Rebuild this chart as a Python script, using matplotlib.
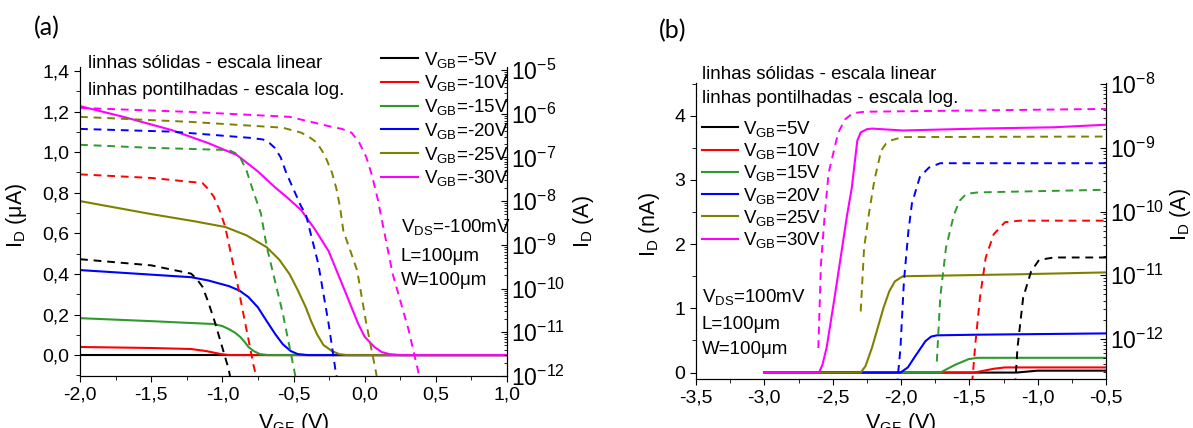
import numpy as np
import matplotlib
matplotlib.use('Agg')
import matplotlib.pyplot as plt
from matplotlib.ticker import MultipleLocator, FuncFormatter, LogLocator, NullFormatter

plt.rcParams['font.family'] = ['Liberation Sans', 'DejaVu Sans']
plt.rcParams['mathtext.fontset'] = 'custom'
plt.rcParams['mathtext.rm'] = 'Liberation Sans'
plt.rcParams['mathtext.it'] = 'Liberation Sans:italic'
plt.rcParams['mathtext.default'] = 'regular'
plt.rcParams['axes.unicode_minus'] = False

colors = ['black', 'red', '#2e9a2e', 'blue', '#808000', '#ff00ff']

# ---- panel (a): V_GB negative, V_DS = -100 mV ----
vgb_a = ['-5', '-10', '-15', '-20', '-25', '-30']

# solid lines, linear scale (uA)
a_sol_x = [
    [-2.0, 1.0],
    [-2.0, -1.5, -1.22, -1.115, -1.01, -0.95, 1.0],
    [-2.0, -1.49, -1.06, -1.0, -0.954, -0.91, -0.874, -0.84, -0.817, -0.78, -0.737, -0.68, 1.0],
    [-2.0, -1.22, -1.1, -0.954, -0.88, -0.817, -0.75, -0.689, -0.63, -0.576, -0.52, -0.471, -0.40, 1.0],
    [-2.0, -1.5, -1.2, -0.978, -0.83, -0.689, -0.6, -0.528, -0.47, -0.415, -0.375, -0.335, -0.29, -0.23,
     -0.18, -0.126, 1.0],
    [-2.0, -1.7, -1.356, -1.1, -0.898, -0.75, -0.632, -0.55, -0.447, -0.35, -0.254, -0.15, -0.045, 0.0,
     0.068, 0.12, 0.172, 0.25, 1.0],
]
a_sol_y = [
    [0.0, 0.0],
    [0.04, 0.035, 0.03, 0.02, 0.005, 0.0, 0.0],
    [0.182, 0.167, 0.153, 0.143, 0.128, 0.11, 0.089, 0.062, 0.04, 0.02, 0.005, 0.0, 0.0],
    [0.419, 0.384, 0.368, 0.34, 0.318, 0.286, 0.235, 0.168, 0.105, 0.054, 0.02, 0.005, 0.0, 0.0],
    [0.759, 0.695, 0.66, 0.631, 0.59, 0.532, 0.47, 0.399, 0.32, 0.237, 0.165, 0.103, 0.05, 0.02,
     0.005, 0.0, 0.0],
    [1.227, 1.175, 1.109, 1.045, 0.986, 0.905, 0.828, 0.78, 0.715, 0.62, 0.513, 0.335, 0.153, 0.09,
     0.04, 0.015, 0.005, 0.0, 0.0],
]

# dashed lines, log scale (A)
a_dash_x = [
    [-2.0, -1.5, -1.22, -1.18, -1.14, -1.10, -1.05, -0.955, -0.93],
    [-2.0, -1.5, -1.14, -1.10, -1.06, -1.02, -0.98, -0.94, -0.89, -0.78, -0.74],
    [-2.0, -1.5, -0.954, -0.91, -0.874, -0.83, -0.793, -0.729, -0.689, -0.576, -0.496, -0.47],
    [-2.0, -1.356, -0.8, -0.713, -0.67, -0.632, -0.59, -0.552, -0.447, -0.415, -0.327, -0.254, -0.206, -0.18],
    [-2.0, -1.22, -0.576, -0.447, -0.39, -0.335, -0.28, -0.23, -0.2, -0.174, -0.15, -0.053, 0.011, 0.076, 0.10],
    [-2.0, -1.22, -0.528, -0.23, -0.16, -0.093, -0.04, 0.011, 0.05, 0.092, 0.116, 0.196, 0.309, 0.373, 0.40],
]
a_dash_i = [
    [4.7e-10, 3.4e-10, 2.2e-10, 1.66e-10, 1.1e-10, 5.0e-11, 1.6e-11, 1.4e-12, 5e-13],
    [4.1e-8, 3.4e-8, 2.6e-8, 1.9e-8, 1.26e-8, 6.3e-9, 2.6e-9, 6.3e-10, 1.1e-10, 1.7e-12, 5e-13],
    [1.95e-7, 1.66e-7, 1.48e-7, 1.26e-7, 9.8e-8, 5.0e-8, 2.1e-8, 5.2e-9, 9.3e-10, 2.75e-11, 1.4e-12, 5e-13],
    [4.5e-7, 3.9e-7, 2.8e-7, 2.57e-7, 2.15e-7, 1.66e-7, 1.0e-7, 4.5e-8, 7.6e-9, 5.2e-9, 3.8e-10, 1.6e-11,
     1.4e-12, 5e-13],
    [8.5e-7, 6.5e-7, 4.8e-7, 3.7e-7, 2.95e-7, 2.16e-7, 1.12e-7, 4.5e-8, 2.0e-8, 7.6e-9, 2.1e-9, 2.6e-10,
     1.6e-11, 1.4e-12, 5e-13],
    [1.36e-6, 1.1e-6, 8.5e-7, 5.0e-7, 4.5e-7, 3.7e-7, 2.24e-7, 1.02e-7, 4.0e-8, 1.1e-8, 4.4e-9, 2.2e-10,
     1.12e-11, 1.4e-12, 5e-13],
]

# ---- panel (b): V_GB positive, V_DS = 100 mV ----
vgb_b = ['5', '10', '15', '20', '25', '30']

# solid lines, linear scale (nA)
b_sol_x = [
    [-3.0, -1.156, -1.0, -0.5],
    [-3.0, -1.464, -1.32, -1.24, -0.5],
    [-3.0, -1.713, -1.605, -1.505, -1.438, -0.5],
    [-3.0, -2.004, -1.95, -1.904, -1.821, -1.78, -1.738, -1.438, -0.5],
    [-3.0, -2.295, -2.26, -2.212, -2.128, -2.085, -2.045, -1.987, -1.713, -1.156, -0.5],
    [-3.0, -2.60, -2.575, -2.544, -2.486, -2.394, -2.36, -2.32, -2.295, -2.25, -2.212, -1.987, -1.438,
     -0.882, -0.5],
]
b_sol_y = [
    [0.0, 0.0, 0.03, 0.03],
    [0.0, 0.0, 0.06, 0.08, 0.08],
    [0.0, 0.0, 0.12, 0.21, 0.23, 0.23],
    [0.0, 0.0, 0.08, 0.23, 0.49, 0.56, 0.58, 0.59, 0.61],
    [0.0, 0.0, 0.1, 0.39, 1.01, 1.27, 1.42, 1.50, 1.51, 1.53, 1.56],
    [0.0, 0.0, 0.12, 0.39, 1.17, 2.46, 2.88, 3.61, 3.74, 3.79, 3.80, 3.77, 3.80, 3.82, 3.86],
]

# dashed lines, log scale (A)
b_dash_x = [
    [-1.165, -1.148, -1.106, -1.048, -0.99, -0.882, -0.5],
    [-1.48, -1.455, -1.422, -1.38, -1.322, -1.239, -1.131, -0.5],
    [-1.738, -1.713, -1.671, -1.613, -1.571, -1.522, -1.438, -0.5],
    [-2.03, -2.004, -1.979, -1.946, -1.92, -1.862, -1.796, -1.713, -0.5],
    [-2.295, -2.27, -2.236, -2.195, -2.145, -2.11, -2.07, -1.987, -0.5],
    [-2.605, -2.586, -2.558, -2.530, -2.461, -2.41, -2.353, -2.27, -0.5],
]
b_dash_i = [
    [1.8e-13, 7.2e-13, 4.5e-12, 1.15e-11, 1.74e-11, 1.9e-11, 1.9e-11],
    [2.0e-13, 8.9e-13, 4.5e-12, 1.9e-11, 4.4e-11, 6.8e-11, 7.2e-11, 7.2e-11],
    [4.4e-13, 4.5e-12, 2.7e-11, 8.9e-11, 1.48e-10, 1.9e-10, 2.0e-10, 2.2e-10],
    [1.8e-13, 7.2e-13, 7.9e-12, 4.9e-11, 1.35e-10, 3.5e-10, 4.9e-10, 5.75e-10, 5.75e-10],
    [2.7e-12, 2.7e-11, 8.9e-11, 3.1e-10, 9.1e-10, 1.17e-9, 1.32e-9, 1.48e-9, 1.51e-9],
    [7.2e-13, 1.48e-11, 8.9e-11, 4.0e-10, 1.7e-9, 2.8e-9, 3.5e-9, 3.7e-9, 4.1e-9],
]

TXT = 13.5


def comma(fmt):
    return FuncFormatter(lambda v, p: (fmt % v).replace('.', ','))


def style_axes(ax, ax2):
    ax.spines['top'].set_visible(False)
    ax2.spines['top'].set_visible(False)
    ax.tick_params(which='both', direction='out', labelsize=14, top=False, right=False)
    ax.tick_params(which='major', length=4)
    ax.tick_params(which='minor', length=3)
    ax2.tick_params(which='both', direction='in', labelsize=16.5, pad=3)
    ax2.tick_params(which='major', length=4.5)
    ax2.tick_params(which='minor', length=2)
    ax2.yaxis.set_major_locator(LogLocator(base=10, numticks=20))
    ax2.yaxis.set_minor_locator(LogLocator(base=10, subs=np.arange(2, 10), numticks=50))
    ax2.yaxis.set_minor_formatter(NullFormatter())


fig = plt.figure(figsize=(11.93, 4.28), dpi=100)

# ---------------- (a) ----------------
axa = fig.add_axes([0.0671, 0.1215, 0.3579, 0.7220])
axa2 = axa.twinx()
for i in range(6):
    axa.plot(a_sol_x[i], a_sol_y[i], color=colors[i], lw=1.5,
             label=f'V$_{{GB}}$={vgb_a[i]}V')
    axa2.plot(a_dash_x[i], a_dash_i[i], color=colors[i], lw=1.4, dashes=(4, 3))
axa.set_xlim(-2.0, 1.0)
axa.set_ylim(-0.103, 1.42)
axa2.set_yscale('log')
axa2.set_ylim(1e-12, 10 ** -4.93)
axa.xaxis.set_major_locator(MultipleLocator(0.5))
axa.xaxis.set_minor_locator(MultipleLocator(0.25))
axa.yaxis.set_major_locator(MultipleLocator(0.2))
axa.yaxis.set_minor_locator(MultipleLocator(0.1))
axa.xaxis.set_major_formatter(comma('%.1f'))
axa.yaxis.set_major_formatter(comma('%.1f'))
style_axes(axa, axa2)
axa.set_xlabel('V$_{GF}$ (V)', fontsize=15.5)
axa.xaxis.set_label_coords(0.5, -0.113)
axa.set_ylabel('I$_D$ (μA)', fontsize=15.5)
axa.yaxis.set_label_coords(-0.12, 0.52)
axa2.set_ylabel('I$_D$ (A)', fontsize=15.5, rotation=90)
axa2.yaxis.set_label_coords(1.15, 0.5)

h, l = axa.get_legend_handles_labels()
axa2.legend(h, l, loc='upper left', bbox_to_anchor=(0.3192, 0.884),
            bbox_transform=fig.transFigure, frameon=False, fontsize=TXT,
            handlelength=2.0, handletextpad=0.3, labelspacing=0.2,
            borderpad=0, borderaxespad=0)

axa.text(0.019, 1.01, 'linhas sólidas - escala linear', transform=axa.transAxes,
         fontsize=TXT, va='center', ha='left')
axa.text(0.019, 0.923, 'linhas pontilhadas - escala log.', transform=axa.transAxes,
         fontsize=TXT, va='center', ha='left')
axa.text(0.751, 0.482, 'V$_{DS}$=-100mV', transform=axa.transAxes, fontsize=TXT, va='center')
axa.text(0.751, 0.386, 'L=100μm', transform=axa.transAxes, fontsize=TXT, va='center')
axa.text(0.751, 0.309, 'W=100μm', transform=axa.transAxes, fontsize=TXT, va='center')

# ---------------- (b) ----------------
axb = fig.add_axes([0.5834, 0.1145, 0.3437, 0.6916])
axb2 = axb.twinx()
for i in range(6):
    axb.plot(b_sol_x[i], b_sol_y[i], color=colors[i], lw=1.5,
             label=f'V$_{{GB}}$={vgb_b[i]}V')
    axb2.plot(b_dash_x[i], b_dash_i[i], color=colors[i], lw=1.4, dashes=(4, 3))
axb.set_xlim(-3.5, -0.5)
axb.set_ylim(-0.10, 4.51)
axb2.set_yscale('log')
axb2.set_ylim(10 ** -12.63, 10 ** -7.98)
axb.xaxis.set_major_locator(MultipleLocator(0.5))
axb.xaxis.set_minor_locator(MultipleLocator(0.25))
axb.yaxis.set_major_locator(MultipleLocator(1))
axb.yaxis.set_minor_locator(MultipleLocator(0.5))
axb.xaxis.set_major_formatter(comma('%.1f'))
axb.yaxis.set_major_formatter(comma('%.0f'))
style_axes(axb, axb2)
axb.set_xlabel('V$_{GF}$ (V)', fontsize=15.5)
axb.xaxis.set_label_coords(0.5, -0.108)
axb.set_ylabel('I$_D$ (nA)', fontsize=15.5)
axb.yaxis.set_label_coords(-0.083, 0.52)
axb2.set_ylabel('I$_D$ (A)', fontsize=15.5, rotation=90)
axb2.yaxis.set_label_coords(1.15, 0.556)

h, l = axb.get_legend_handles_labels()
axb2.legend(h, l, loc='upper left', bbox_to_anchor=(0.5885, 0.722),
            bbox_transform=fig.transFigure, frameon=False, fontsize=TXT,
            handlelength=1.9, handletextpad=0.3, labelspacing=0.12,
            borderpad=0, borderaxespad=0)

axb.text(0.014, 1.03, 'linhas sólidas - escala linear', transform=axb.transAxes,
         fontsize=TXT, va='center', ha='left')
axb.text(0.014, 0.949, 'linhas pontilhadas - escala log.', transform=axb.transAxes,
         fontsize=TXT, va='center', ha='left')
axb.text(0.014, 0.278, 'V$_{DS}$=100mV', transform=axb.transAxes, fontsize=TXT, va='center')
axb.text(0.014, 0.183, 'L=100μm', transform=axb.transAxes, fontsize=TXT, va='center')
axb.text(0.014, 0.098, 'W=100μm', transform=axb.transAxes, fontsize=TXT, va='center')

fig.text(0.0394, 0.936, '(a)', fontsize=18, family='Lato', ha='center', va='center')
fig.text(0.564, 0.928, '(b)', fontsize=18, family='Lato', ha='center', va='center')

fig.savefig('out.png', dpi=100)
